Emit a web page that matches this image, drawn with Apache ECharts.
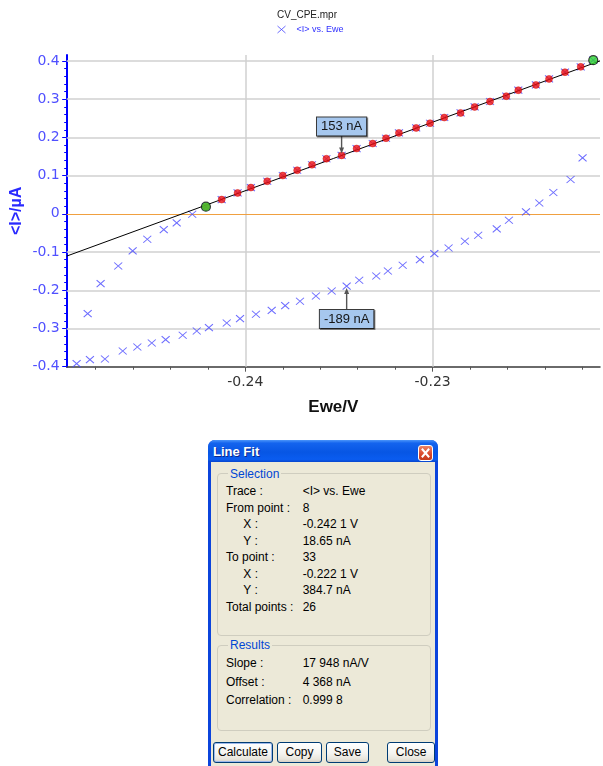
<!DOCTYPE html>
<html>
<head>
<meta charset="utf-8">
<script src="https://cdn.jsdelivr.net/npm/echarts@6/dist/echarts.min.js"></script>
<style>
  html, body { margin: 0; padding: 0; background: #fff; overflow: hidden; width: 603px; height: 766px; }
  #chart { position: absolute; left: 0; top: 0; width: 603px; height: 430px; }
  #dlg { position: absolute; left: 208px; top: 440px; width: 230px; height: 340px;
         background: #0b44dc; border-radius: 7px 7px 0 0;
         font-family: 'Liberation Sans', Arial, sans-serif; font-size: 12px; color: #000; }
  #dlg .tbar { position: absolute; left: 0; top: 0; width: 230px; height: 22px; border-radius: 7px 7px 0 0;
         background: linear-gradient(#4a95fa 0%, #1464ee 14%, #0756e4 55%, #0a5cf0 88%, #0845cc 100%); }
  #dlg .ttl { position: absolute; left: 5px; top: 4.5px; color: #fff; font-weight: bold; font-size: 13px;
         line-height: 14px; text-shadow: 1px 1px 0 #0a2a8c; }
  #dlg .xbtn { position: absolute; left: 210px; top: 5px; width: 13px; height: 14px; border: 1px solid #fff;
         border-radius: 3px; background: linear-gradient(#ec8466, #d8472a 60%, #c43a1c); }
  #dlg .xbtn svg { position: absolute; left: 0; top: 0; }
  #dlg .body { position: absolute; left: 3px; top: 22px; width: 224px; height: 318px; background: #ece9d8; }
  #dlg .grp { position: absolute; left: 8.7px; width: 212px; border: 1px solid #cfcdbf; border-radius: 4px; }
  #dlg .gl { position: absolute; left: 20px; padding: 0 2px; background: #ece9d8; color: #0046d5; line-height: 14px; }
  #dlg .t { position: absolute; line-height: 14px; white-space: pre; }
  #dlg .btn { position: absolute; top: 301.7px; height: 21.7px; box-sizing: border-box; border: 1px solid #003c74;
         border-radius: 3px; background: linear-gradient(#ffffff, #f4f4f0 55%, #e8e5dc 85%, #d6d0c5);
         text-align: center; line-height: 19.5px; font-size: 12px; }
  #dlg .btn.def { box-shadow: inset 0 0 0 1px #9db9eb; }
</style>
</head>
<body>
<div id="chart"></div>

<div id="dlg">
  <div class="tbar"></div>
  <div class="ttl">Line Fit</div>
  <div class="xbtn"><svg width="13" height="14"><path d="M3.5 3.5L9.5 10.5M9.5 3.5L3.5 10.5" stroke="#fff" stroke-width="2" stroke-linecap="square"/></svg></div>
  <div class="body"></div>

  <div class="grp" style="top:33.3px;height:161px;"></div>
  <div class="gl" style="top:26.5px;">Selection</div>
  <div class="t" style="left:18px;top:44px;">Trace :</div>
  <div class="t" style="left:94.7px;top:44px;">&lt;I&gt; vs. Ewe</div>
  <div class="t" style="left:18px;top:60.5px;">From point :</div>
  <div class="t" style="left:94.7px;top:60.5px;">8</div>
  <div class="t" style="left:35.3px;top:77px;">X :</div>
  <div class="t" style="left:94.7px;top:77px;">-0.242 1 V</div>
  <div class="t" style="left:35.3px;top:93.5px;">Y :</div>
  <div class="t" style="left:94.7px;top:93.5px;">18.65 nA</div>
  <div class="t" style="left:18px;top:110px;">To point :</div>
  <div class="t" style="left:94.7px;top:110px;">33</div>
  <div class="t" style="left:35.3px;top:126.5px;">X :</div>
  <div class="t" style="left:94.7px;top:126.5px;">-0.222 1 V</div>
  <div class="t" style="left:35.3px;top:143px;">Y :</div>
  <div class="t" style="left:94.7px;top:143px;">384.7 nA</div>
  <div class="t" style="left:18px;top:159.7px;">Total points :</div>
  <div class="t" style="left:94.7px;top:159.7px;">26</div>

  <div class="grp" style="top:205px;height:84px;"></div>
  <div class="gl" style="top:198px;">Results</div>
  <div class="t" style="left:18px;top:216.3px;">Slope :</div>
  <div class="t" style="left:94.7px;top:216.3px;">17 948 nA/V</div>
  <div class="t" style="left:18px;top:234.7px;">Offset :</div>
  <div class="t" style="left:94.7px;top:234.7px;">4 368 nA</div>
  <div class="t" style="left:18px;top:253px;">Correlation :</div>
  <div class="t" style="left:94.7px;top:253px;">0.999 8</div>

  <div class="btn def" style="left:5.3px;width:59.4px;">Calculate</div>
  <div class="btn" style="left:68.7px;width:45.6px;">Copy</div>
  <div class="btn" style="left:117.7px;width:43.6px;">Save</div>
  <div class="btn" style="left:179.3px;width:47.7px;">Close</div>
</div>

<script>
// Cyclic voltammogram CV_CPE.mpr: potential Ewe (V) and mean current <I> (µA)
const lowerE = [-0.24900, -0.24829, -0.24749, -0.24654, -0.24576, -0.24499, -0.24425, -0.24334,
                -0.24259, -0.24194, -0.24099, -0.24028, -0.23943, -0.23859, -0.23787, -0.23708,
                -0.23623, -0.23539, -0.23459, -0.23392, -0.23301, -0.23239, -0.23160, -0.23068,
                -0.22991, -0.22915, -0.22828, -0.22757, -0.22658, -0.22593, -0.22502, -0.22431,
                -0.22356, -0.22264, -0.22200];
const lowerI = [-0.3919, -0.3814, -0.3798, -0.3589, -0.3484, -0.3380, -0.3291, -0.3178,
                -0.3066, -0.2976, -0.2856, -0.2741, -0.2628, -0.2524, -0.2401, -0.2288,
                -0.2149, -0.2018, -0.189, -0.1738, -0.1626, -0.1495, -0.1346, -0.1196,
                -0.1039, -0.0893, -0.0717, -0.0560, -0.0395, -0.0168, 0.0050, 0.0285,
                0.0558, 0.0898, 0.1463];
const upperE = [-0.24841, -0.24772, -0.24678, -0.24601, -0.24523, -0.24435, -0.24366, -0.24283,
                -0.2421, -0.24126, -0.24041, -0.23970, -0.23883, -0.23800, -0.23723, -0.23644,
                -0.23567, -0.23486, -0.23406, -0.23320, -0.23249, -0.23180, -0.23088, -0.23014,
                -0.22938, -0.22851, -0.22776, -0.22694, -0.22607, -0.22543, -0.22449, -0.22379,
                -0.22294, -0.2221, -0.22143];
const upperI = [-0.2610, -0.1825, -0.1364, -0.0971, -0.0665, -0.0411, -0.0238, -0.0010,
                0.01865, 0.0374, 0.0547, 0.0688, 0.0853, 0.1003, 0.1141, 0.1285,
                0.1442, 0.153, 0.1709, 0.1840, 0.1979, 0.2118, 0.2249, 0.2372,
                0.2521, 0.2641, 0.2798, 0.2940, 0.3079, 0.3236, 0.3374, 0.3531,
                0.3707, 0.3847, 0.4021];

// Line fit over upper-branch points 8..33, cursors at 8 and 34
const fitFrom = 8;
const fitTo = 33;
const cursorIdx = [8, 34];
const fitSlopeNAperV = 17948;
const fitOffsetNA = 4368;

// Current read-outs (µA)
const noteE = [-0.23486, -0.23459];
const noteI = [0.153, -0.189];

// Axis ticks
const xMajor = [-0.24, -0.23];
const yMajor = [-0.4, -0.3, -0.2, -0.1, 0, 0.1, 0.2, 0.3, 0.4];
const xMinor = [];
for (let k = -124; k <= -111; k++) xMinor.push(+(k * 0.002).toFixed(3));
const yMinor = [];
for (let k = -20; k <= 20; k++) yMinor.push(+(k * 0.02).toFixed(2));

const X_MIN = -0.24953, X_MAX = -0.22107;
const Y_MIN = -0.4, Y_MAX = 0.4157;

const BLUE = '#0000ff';
const XCOL = '#4646ff';
const GRID = '#d0d0d0';
const FONT = 'Liberation Sans';

const pairs = (xs, ys) => xs.map((x, i) => [x, ys[i]]);
const scanPts = pairs(lowerE, lowerI).concat(pairs(upperE, upperI));
const fitPts = pairs(upperE.slice(fitFrom, fitTo + 1), upperI.slice(fitFrom, fitTo + 1));
const cursorPts = cursorIdx.map(i => [upperE[i], upperI[i]]);
const fitI = e => (fitSlopeNAperV * e + fitOffsetNA) / 1000;
const fitLine = [[X_MIN, fitI(X_MIN)], [X_MAX, fitI(X_MAX)]];

const CROSS = 'path://M0,0L8,7M8,0L0,7';
const ARROW_DOWN = 'path://M2.8,0H4.2V12H6L3.5,18L1,12H2.8Z';
const ARROW_UP = 'path://M3.5,0L6,6H4.2V22H2.8V6H1Z';

const gridLines = yMajor.filter(v => v !== 0 && v !== Y_MIN).map(v => ({ yAxis: v }))
  .concat([{ yAxis: Y_MAX }])
  .concat(xMajor.map(v => ({ xAxis: v })))
  .concat([{ yAxis: 0, lineStyle: { color: '#f0a040', width: 1.2 } }]);

const notes = noteE.map((e, i) => {
  const up = noteI[i] > 0;
  return {
    coord: [e, noteI[i]],
    symbol: up ? ARROW_DOWN : ARROW_UP,
    symbolSize: up ? [5, 18] : [5, 22],
    symbolOffset: up ? [0, -11] : [0, 13],
    label: { position: up ? 'top' : 'bottom' },
    value: Math.round(noteI[i] * 1000)
  };
});

const fmtY = v => String(+(+v).toFixed(2));
const fmtX = v => (+v).toFixed(2);

const chart = echarts.init(document.getElementById('chart'), null, { renderer: 'canvas' });
chart.setOption({
  animation: false,
  textStyle: { fontFamily: FONT },
  title: {
    text: 'CV_CPE.mpr', left: 277, top: 10, padding: 0,
    textStyle: { fontSize: 10, fontWeight: 'normal', color: '#222', fontFamily: FONT }
  },
  legend: {
    data: ['<I> vs. Ewe'], left: 277, top: 25, padding: 0,
    itemWidth: 8, itemHeight: 7, icon: CROSS,
    itemStyle: { color: XCOL, borderColor: XCOL, borderWidth: 1 },
    textStyle: { fontSize: 9, color: '#3030ff', fontFamily: FONT, padding: [0, 0, 0, 6] },
    selectedMode: false
  },
  grid: { left: 66.7, top: 55, right: 3, bottom: 63.3, outerBoundsMode: 'none' },
  xAxis: [{
    type: 'value', min: X_MIN, max: X_MAX, position: 'bottom',
    axisLine: { onZero: false, lineStyle: { color: '#3a3a3a', width: 1.5 } },
    axisTick: { show: true, customValues: xMinor, length: 3, lineStyle: { color: '#555', width: 1 } },
    axisLabel: { show: false }, splitLine: { show: false },
    name: 'Ewe/V', nameLocation: 'middle', nameGap: 32, nameMoveOverlap: false,
    nameTextStyle: { fontSize: 17, fontWeight: 'bold', color: '#111', fontFamily: FONT }
  }, {
    type: 'value', min: X_MIN, max: X_MAX, position: 'bottom',
    axisLine: { show: false, onZero: false },
    axisTick: { show: true, customValues: xMajor, length: 5, lineStyle: { color: '#555', width: 1 } },
    axisLabel: { customValues: xMajor, formatter: fmtX, margin: 9, fontSize: 14, color: '#333', fontFamily: 'DejaVu Sans' },
    splitLine: { show: false }
  }],
  yAxis: [{
    type: 'value', min: Y_MIN, max: Y_MAX, position: 'left',
    axisLine: { onZero: false, lineStyle: { color: BLUE, width: 2 } },
    axisTick: { show: true, customValues: yMinor, length: 2.5, lineStyle: { color: BLUE, width: 1 } },
    axisLabel: { show: false }, splitLine: { show: false },
    name: '<I>/µA', nameLocation: 'middle', nameGap: 42, nameMoveOverlap: false,
    nameTextStyle: { fontSize: 16, fontWeight: 'bold', color: '#2a2aff', fontFamily: FONT }
  }, {
    type: 'value', min: Y_MIN, max: Y_MAX, position: 'left',
    axisLine: { show: false, onZero: false },
    axisTick: { show: true, customValues: yMajor, length: 4.5, lineStyle: { color: BLUE, width: 1 } },
    axisLabel: { customValues: yMajor, formatter: fmtY, margin: 7, fontSize: 14, color: '#5050ff', fontFamily: 'DejaVu Sans' },
    splitLine: { show: false }
  }],
  series: [{
    name: 'gridlines', type: 'line', data: [], silent: true, clip: false, z: 1,
    markLine: {
      silent: true, z: 1, symbol: ['none', 'none'], label: { show: false },
      emphasis: { disabled: true },
      lineStyle: { color: GRID, width: 1.5, type: 'solid' },
      data: gridLines
    }
  }, {
    name: '<I> vs. Ewe', type: 'scatter', data: scanPts, z: 2,
    symbol: CROSS, symbolSize: [8, 7],
    itemStyle: { color: XCOL, borderColor: XCOL, borderWidth: 1 },
    emphasis: { disabled: true },
    markPoint: {
      z: 10, silent: true,
      itemStyle: { color: '#555' },
      label: {
        show: true, distance: 0, formatter: p => p.value + ' nA',
        fontSize: 13, lineHeight: 14, color: '#151515', fontFamily: FONT,
        backgroundColor: '#a6c7ee', borderColor: '#3a3a3a', borderWidth: 1, padding: [2, 4, 2, 4],
        shadowColor: 'rgba(0,0,0,0.45)', shadowOffsetX: 1, shadowOffsetY: 1, shadowBlur: 0
      },
      data: notes
    }
  }, {
    name: 'fit', type: 'line', data: fitLine, z: 3, showSymbol: false, silent: true,
    lineStyle: { color: '#000', width: 1 }
  }, {
    name: 'fit points', type: 'scatter', data: fitPts, z: 4, silent: true,
    symbol: 'circle', symbolSize: 7,
    itemStyle: { color: '#f01010', borderColor: '#c00000', borderWidth: 0.5 }
  }, {
    name: 'cursors', type: 'scatter', data: cursorPts, z: 5, silent: true,
    symbol: 'circle', symbolSize: 9,
    itemStyle: { color: '#2fd62f', borderColor: '#111', borderWidth: 1.2 }
  }]
});
</script>
</body>
</html>
